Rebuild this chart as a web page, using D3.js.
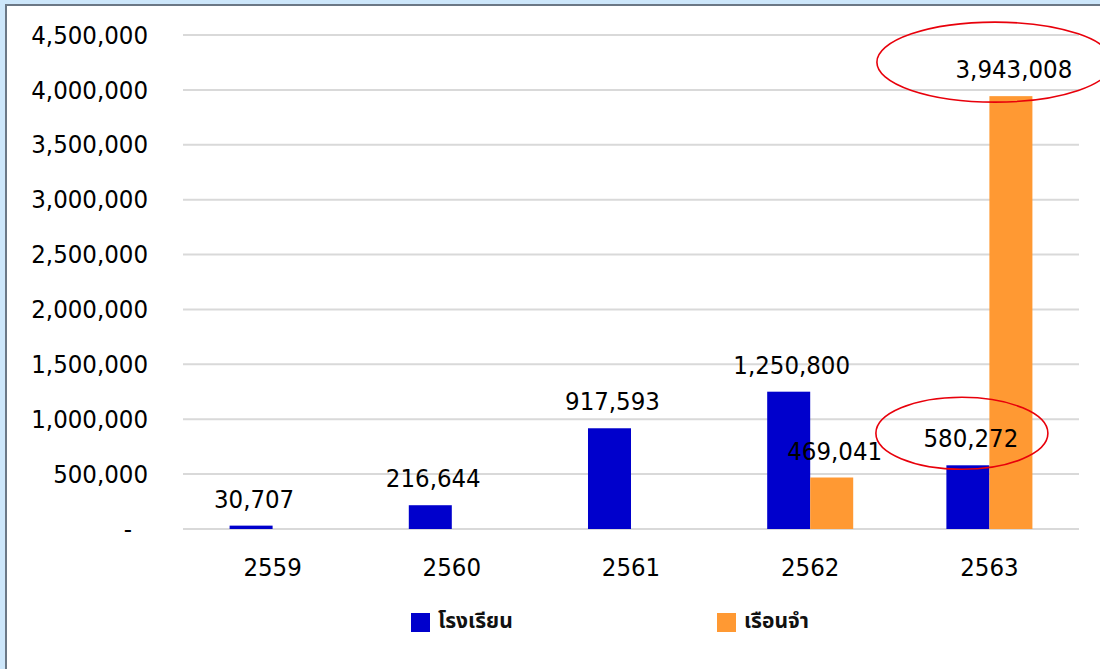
<!DOCTYPE html>
<html>
<head>
<meta charset="utf-8">
<script src="https://cdn.jsdelivr.net/npm/d3@7/dist/d3.min.js"></script>
<style>
	body {
		margin: 0;
		background: #cde7fb;
	}
	.num {
		font-family: "DejaVu Sans Condensed", "DejaVu Sans", sans-serif;
		font-size: 25.5px;
		fill: #000;
	}
	.legend {
		font-family: "Noto Sans Thai", "Loma", "Tahoma", "Noto Sans", "DejaVu Sans", sans-serif;
		font-size: 21px;
		font-weight: bold;
		fill: #111;
	}
</style>
</head>
<body>
<script>
	// data
	var years = ["2559", "2560", "2561", "2562", "2563"];
	var seriesNames = ["โรงเรียน", "เรือนจำ"];
	var school = [30707, 216644, 917593, 1250800, 580272];
	var prison = [null, null, null, 469041, 3943008];
	var yTicks = [0, 500000, 1000000, 1500000, 2000000, 2500000, 3000000, 3500000, 4000000, 4500000];
	var colors = ["#0000cc", "#ff9933"];

	var W = 1100, H = 669;
	var plot = { left: 183, right: 1079, top: 35, bottom: 529 };

	var svg = d3.select("body").append("svg")
		.attr("width", W)
		.attr("height", H);

	// frame
	svg.append("rect").attr("x", 5).attr("y", 4).attr("width", W).attr("height", H)
		.attr("fill", "#6b7886");
	svg.append("rect").attr("x", 7).attr("y", 6).attr("width", W).attr("height", H)
		.attr("fill", "#fff");

	// scales
	var x0 = d3.scaleBand()
		.domain(years)
		.range([plot.left, plot.right])
		.paddingInner(0.52)
		.paddingOuter(0.26);
	var x1 = d3.scaleBand()
		.domain([0, 1])
		.range([0, x0.bandwidth()]);
	var y = d3.scaleLinear()
		.domain([0, 4500000])
		.range([plot.bottom, plot.top]);

	// grid
	svg.append("g").selectAll("line")
		.data(yTicks)
		.enter().append("line")
		.attr("x1", plot.left)
		.attr("x2", plot.right)
		.attr("y1", d => y(d))
		.attr("y2", d => y(d))
		.attr("stroke", "#d9d9d9")
		.attr("stroke-width", 2);

	// y axis labels
	var fmt = d3.format(",");
	var yAxis = svg.append("g")
		.attr("class", "num")
		.attr("transform", "translate(" + plot.left + ",0)")
		.call(d3.axisLeft(y).tickValues(yTicks).tickSize(0).tickPadding(35)
			.tickFormat(d => d === 0 ? "-" : fmt(d)));
	yAxis.select(".domain").remove();
	yAxis.selectAll("text")
		.attr("font-family", null).attr("font-size", null)
		.attr("x", d => d === 0 ? -51 : -35);

	// x axis labels
	var xAxis = svg.append("g")
		.attr("class", "num")
		.attr("transform", "translate(0," + plot.bottom + ")")
		.call(d3.axisBottom(x0).tickSize(0));
	xAxis.select(".domain").remove();
	xAxis.selectAll("text")
		.attr("font-family", null).attr("font-size", null)
		.attr("y", 47).attr("dy", 0);

	// bars
	var rows = [];
	years.forEach(function(yr, i) {
		rows.push({ year: yr, s: 0, v: school[i] });
		if (prison[i] != null) rows.push({ year: yr, s: 1, v: prison[i] });
	});

	svg.append("g").selectAll("rect")
		.data(rows)
		.enter().append("rect")
		.attr("x", d => x0(d.year) + x1(d.s))
		.attr("y", d => y(d.v))
		.attr("width", x1.bandwidth())
		.attr("height", d => y(0) - y(d.v))
		.attr("fill", d => colors[d.s]);

	// value labels
	svg.append("g").selectAll("text")
		.data(rows)
		.enter().append("text")
		.attr("class", "num")
		.attr("x", d => x0(d.year) + x1(d.s) + x1.bandwidth() / 2 + 3)
		.attr("y", d => y(d.v) - 18)
		.attr("text-anchor", "middle")
		.text(d => fmt(d.v));

	// highlight ellipses around the 2563 labels
	var marks = [
		{ year: "2563", s: 1, dx: -19, dy: -16, rx: 118, ry: 40 },
		{ year: "2563", s: 0, dx: -9, dy: -14, rx: 86, ry: 36 }
	];
	svg.append("g").selectAll("ellipse")
		.data(marks)
		.enter().append("ellipse")
		.attr("cx", d => x0(d.year) + x1(d.s) + x1.bandwidth() / 2 + 3 + d.dx)
		.attr("cy", d => y(d.s ? prison[years.indexOf(d.year)] : school[years.indexOf(d.year)]) - 18 + d.dy)
		.attr("rx", d => d.rx)
		.attr("ry", d => d.ry)
		.attr("fill", "none")
		.attr("stroke", "#e8000b")
		.attr("stroke-width", 1.6);

	// legend
	var legendX = [411, 717];
	var lg = svg.append("g").selectAll("g")
		.data(seriesNames)
		.enter().append("g")
		.attr("transform", (d, i) => "translate(" + legendX[i] + ",613)");
	lg.append("rect")
		.attr("width", 19)
		.attr("height", 19)
		.attr("fill", (d, i) => colors[i]);
	lg.append("text")
		.attr("class", "legend")
		.attr("x", 27)
		.attr("y", 15)
		.text(d => d);
</script>
</body>
</html>
